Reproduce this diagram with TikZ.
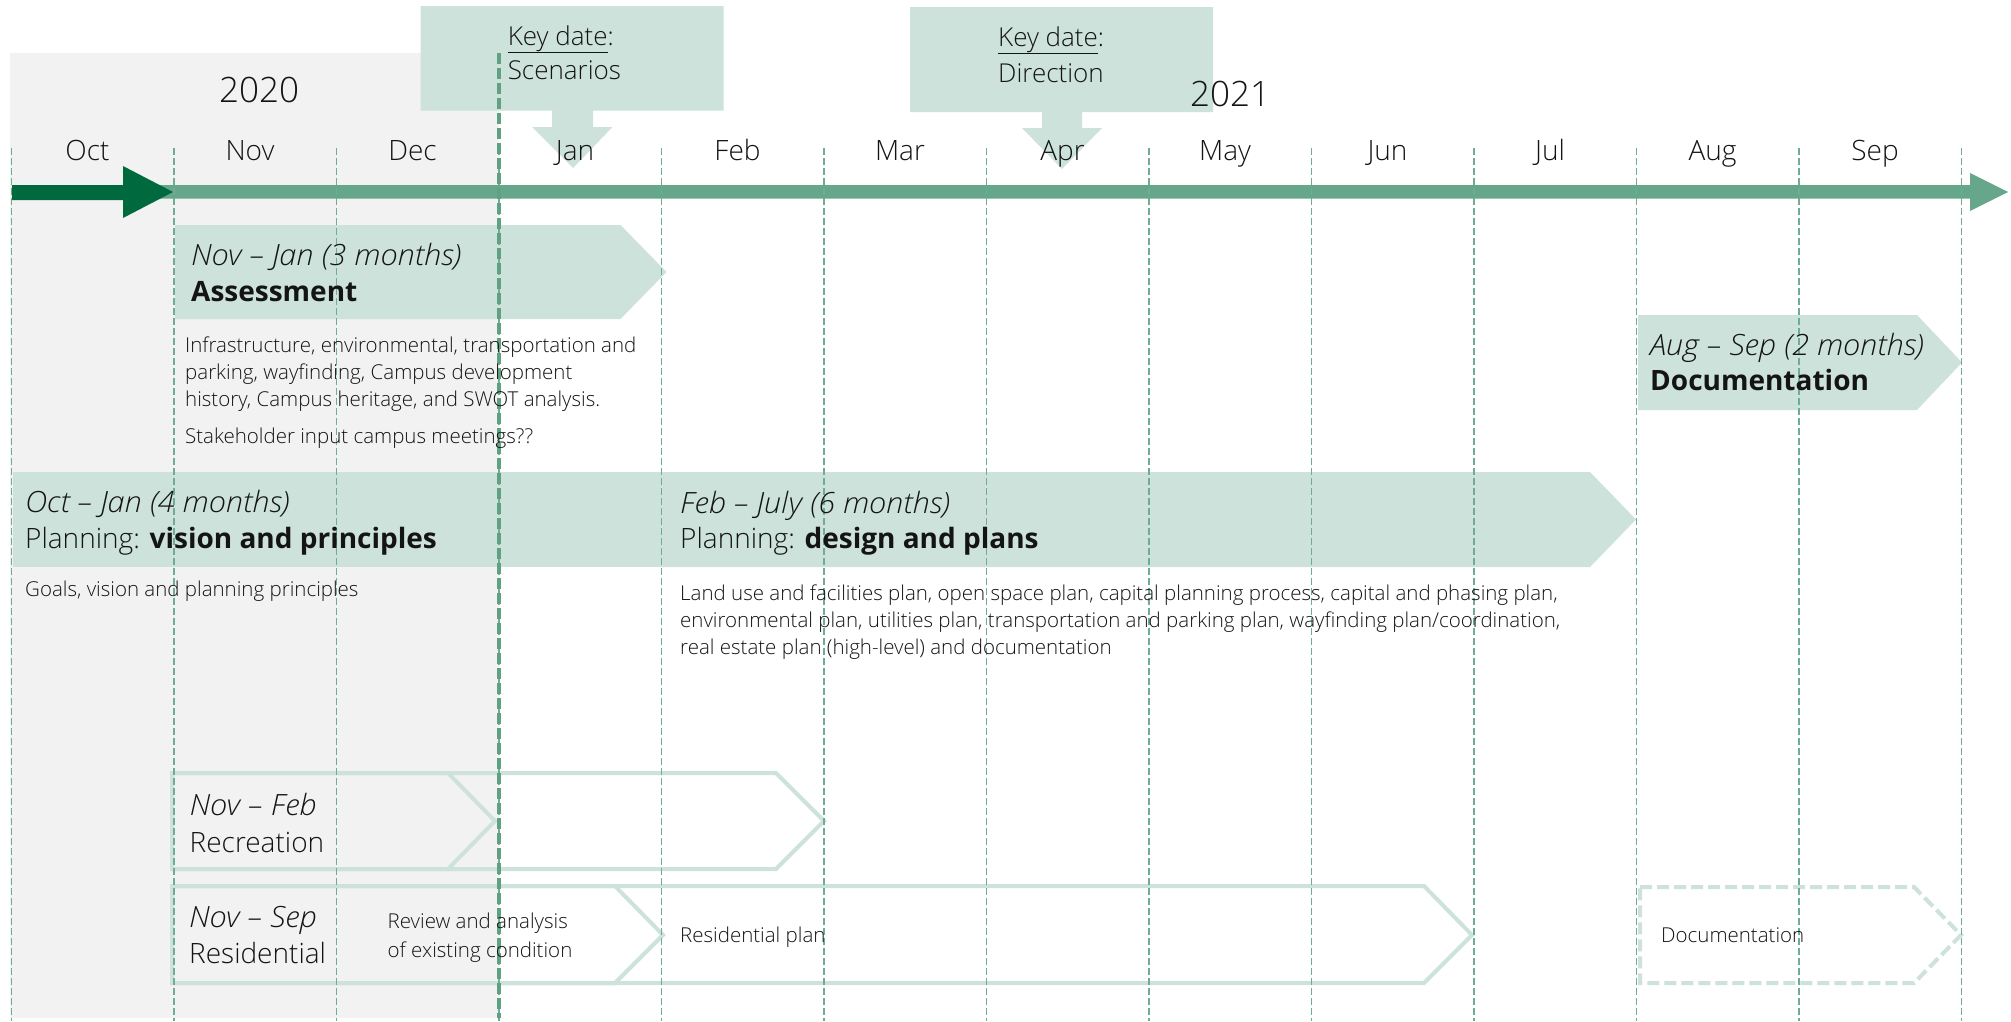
\documentclass[tikz,border=0pt]{standalone}
\usepackage{fontspec}
\setmainfont{Open Sans Light}[ItalicFont={Open Sans Light Italic}, ItalicFeatures={FakeStretch=1.05}, BoldFont={Open Sans Bold}]
\definecolor{mint}{RGB}{204,226,218}
\definecolor{bggray}{RGB}{242,242,242}
\definecolor{axisc}{RGB}{102,166,138}
\definecolor{darkg}{RGB}{0,106,62}
\definecolor{gridc}{RGB}{112,172,148}
\definecolor{thickd}{RGB}{96,160,132}
\definecolor{ink}{RGB}{20,20,20}
\tikzset{
  mon/.style={font=\fontsize{28}{34}\selectfont, anchor=base, text=ink, inner sep=0pt},
  yr/.style={font=\fontsize{35}{40}\selectfont, anchor=base, text=ink, inner sep=0pt},
  lbl/.style={anchor=base west, inner sep=0pt, text=ink},
  big/.style={lbl, font=\fontsize{28}{34}\selectfont},
  ital/.style={lbl, font=\fontsize{29.3}{34}\selectfont\itshape},
  kd/.style={lbl, font=\fontsize{26}{30}\selectfont},
  small/.style={lbl, font=\fontsize{20.5}{24}\selectfont},
  gridline/.style={draw=gridc, line width=1.5pt, dash pattern=on 7pt off 3pt},
  keyline/.style={draw=thickd, line width=4.5pt, dash pattern=on 11pt off 4pt},
  phase/.style={fill=mint},
  outl/.style={draw=mint, line width=4pt, line join=miter},
  outldash/.style={draw=mint, line width=4pt, dash pattern=on 12pt off 5pt}
}
\begin{document}
\begin{tikzpicture}[x=1pt,y=-1pt]
\useasboundingbox (0,0) rectangle (2011,1021);
\fill[white] (0,0) rectangle (2011,1021);
% 2020 shaded region
\fill[bggray] (10,53) rectangle (499,1018);
% key date callouts
\fill[mint] (420.5,6) -- (723.7,6) -- (723.7,110.7) -- (593,110.7) -- (593,127) -- (612.5,127)
  -- (573,168) -- (532,127) -- (552,127) -- (552,110.7) -- (420.5,110.7) -- cycle;
\fill[mint] (910,7) -- (1213,7) -- (1213,112) -- (1082,112) -- (1082,128) -- (1102,128)
  -- (1062,169) -- (1022,128) -- (1042,128) -- (1042,112) -- (910,112) -- cycle;
\node[kd] (kd1a) at (507.6,45) {\underline{Key date}:};
\node[kd] (kd1b) at (507.6,79) {Scenarios};
\node[kd] (kd2a) at (998,46) {\underline{Key date}:};
\node[kd] (kd2b) at (998,82) {Direction};
% years
\node[yr] (y2020) at (259,102) {2020};
\node[yr] (y2021) at (1230,106) {2021};
% months
\foreach \m [count=\i from 0] in {Oct,Nov,Dec,Jan,Feb,Mar,Apr,May,Jun,Jul,Aug,Sep}
  \node[mon] (m\i) at ({11.5+162.5*\i+76},160) {\m};
% timeline arrow
\fill[axisc] (12,185) -- (1970,185) -- (1970,173) -- (2008,192) -- (1970,211) -- (1970,198.5) -- (12,198.5) -- cycle;
\fill[darkg] (12,185) -- (123,185) -- (123,166) -- (173,192) -- (123,218) -- (123,200) -- (12,200) -- cycle;
% phases
\fill[phase] (175,225) -- (620.5,225) -- (666.5,272) -- (620.5,319) -- (175,319) -- cycle;
\fill[phase] (13,472) rectangle (662,567);
\fill[phase] (662,472) -- (1590,472) -- (1636,519.5) -- (1590,567) -- (662,567) -- cycle;
\fill[phase] (1638,315) -- (1917,315) -- (1962,362.5) -- (1917,410) -- (1638,410) -- cycle;
% outlined chevrons
\draw[outl] (172,773) -- (776,773) -- (824,821) -- (776,869) -- (172,869) -- cycle;
\draw[outl] (172,773) -- (448,773) -- (495,821) -- (448,869) -- (172,869) -- cycle;
\draw[outl] (172,886) -- (1424,886) -- (1472,935) -- (1424,983) -- (172,983) -- cycle;
\draw[outl] (172,886) -- (615,886) -- (663,935) -- (615,983) -- (172,983) -- cycle;
\draw[outldash] (1640,887) -- (1914,887) -- (1961,935) -- (1914,983) -- (1640,983) -- cycle;
% grid lines
\foreach \i in {0,...,12}
  \draw[gridline] ({11.5+162.5*\i},148) -- ({11.5+162.5*\i},1021);
\draw[keyline] (499,53) -- (499,1018);
% texts
\node[ital] (asd) at (191,265) {Nov -- Jan (3 months)};
\node[big] (ast) at (191,301) {\bfseries Assessment};
\node[small] (as1) at (185,352) {Infrastructure, environmental, transportation and};
\node[small] (as2) at (185,379) {parking, wayfinding, Campus development};
\node[small] (as3) at (185,406) {history, Campus heritage, and SWOT analysis.};
\node[small] (as4) at (185,443) {Stakeholder input campus meetings??};
\node[ital] (pvd) at (25,512) {Oct -- Jan (4 months)};
\node[big] (pvt) at (25,548) {Planning: \textbf{vision and principles}};
\node[small] (pv1) at (25,596) {Goals, vision and planning principles};
\node[ital] (pdd) at (680,513) {Feb -- July (6 months)};
\node[big] (pdt) at (680,548) {Planning: \textbf{design and plans}};
\node[small] (pd1) at (680,600) {Land use and facilities plan, open space plan, capital planning process, capital and phasing plan,};
\node[small] (pd2) at (680,627) {environmental plan, utilities plan, transportation and parking plan, wayfinding plan/coordination,};
\node[small] (pd3) at (680,654) {real estate plan (high-level) and documentation};
\node[ital] (dcd) at (1650,355) {Aug -- Sep (2 months)};
\node[big] (dct) at (1650,390) {\bfseries Documentation};
\node[ital] (rcd) at (189.5,815) {Nov -- Feb};
\node[big] (rct) at (189.5,852) {Recreation};
\node[ital] (rsd) at (189,927) {Nov -- Sep};
\node[big] (rst) at (189,963) {Residential};
\node[small] (rs1) at (387.5,928) {Review and analysis};
\node[small] (rs2) at (387.5,957) {of existing condition};
\node[small] (rs3) at (680,942) {Residential plan};
\node[small] (rs4) at (1661,942) {Documentation};
\end{tikzpicture}
\end{document}
